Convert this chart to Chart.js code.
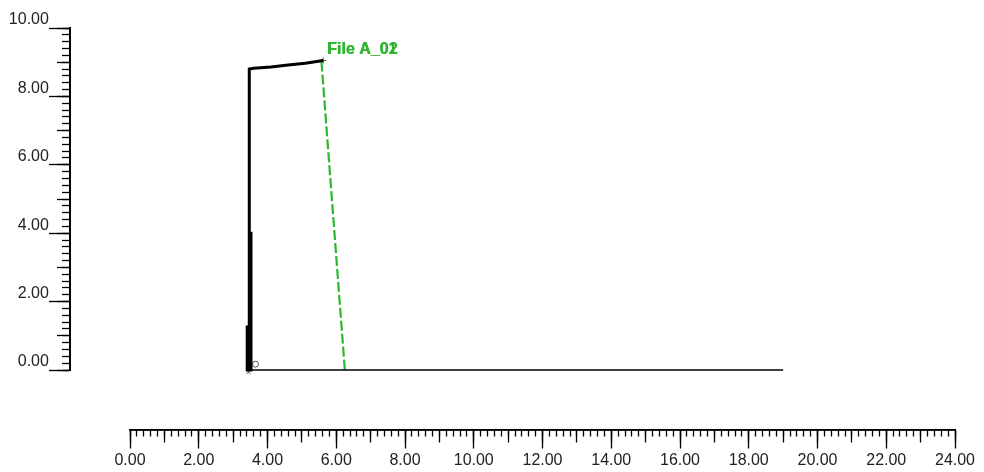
<!DOCTYPE html>
<html>
<head>
<meta charset="utf-8">
<script src="https://cdn.jsdelivr.net/npm/chart.js@4/dist/chart.umd.min.js"></script>
<style>
  html, body { margin: 0; padding: 0; background: #fff; }
  #wrap { width: 984px; height: 472px; position: relative; }
</style>
</head>
<body>
<div id="wrap"><canvas id="chart"></canvas></div>
<script>
// data
const baselineX = [3.47, 19.0];
const baselineY = [0, 0];

const traceX = [3.41, 3.41, 3.52, 3.52, 3.47, 3.47, 3.47, 3.60, 4.10, 4.60, 5.10, 5.62];
const traceY = [1.3, 0, 0, 4.0, 4.0, 0, 8.80, 8.82, 8.86, 8.92, 8.97, 9.05];

const dropX = [5.57, 6.25];
const dropY = [9.02, 0];

const markerX = [3.45, 3.65, 5.62];
const markerY = [-0.06, 0.17, 9.05];
const markerStyles = ['crossRot', 'circle', 'cross'];

const fileLabels = ['File A_01', 'File A_02'];
const labelAt = { x: 5.73, y: 9.36 };

// axis crossing values (in data units of the other axis)
const yAxisAtX = -1.745;
const yLabelsAtX = -2.36;
const xAxisAtY = -1.75;

const fmt = (v) => Number(v).toFixed(2);
const pts = (xs, ys) => xs.map((x, i) => ({ x, y: ys[i] }));

const tickFont = { family: 'Liberation Sans, Arial, sans-serif', size: 16 };

function xAxis(step, len, labels) {
  return {
    type: 'linear',
    min: 0,
    max: 24,
    position: { y: xAxisAtY },
    border: { display: true, color: '#000', width: 1.5 },
    grid: { drawOnChartArea: false, drawTicks: true, tickLength: len, tickColor: '#000', tickWidth: 1.3 },
    ticks: {
      stepSize: step,
      autoSkip: false,
      maxRotation: 0,
      display: labels,
      padding: 3,
      color: '#222',
      font: tickFont,
      callback: fmt,
    },
  };
}

function yAxis(step, len) {
  return {
    type: 'linear',
    min: 0,
    max: 10,
    position: { x: yAxisAtX },
    border: { display: true, color: '#000', width: 1.8 },
    grid: { drawOnChartArea: false, drawTicks: true, tickLength: len, tickColor: '#000', tickWidth: 1.3 },
    ticks: { stepSize: step, autoSkip: false, display: false },
  };
}

// labels only, sitting just left of the long ticks
const yLabelAxis = {
  type: 'linear',
  min: 0,
  max: 10,
  position: { x: yLabelsAtX },
  border: { display: false },
  grid: { display: false },
  ticks: {
    stepSize: 2,
    autoSkip: false,
    labelOffset: -8,
    color: '#222',
    font: tickFont,
    callback: fmt,
  },
};

const fileLabelPlugin = {
  id: 'fileLabel',
  afterDatasetsDraw(chart) {
    const { ctx, scales } = chart;
    const px = scales.x.getPixelForValue(labelAt.x);
    const py = scales.y.getPixelForValue(labelAt.y);
    ctx.save();
    ctx.fillStyle = '#2fb52f';
    ctx.font = 'bold 16px Liberation Sans, Arial, sans-serif';
    ctx.textAlign = 'left';
    ctx.textBaseline = 'middle';
    fileLabels.forEach((t, i) => ctx.fillText(t, px + i * 0.6, py));
    ctx.restore();
  },
};

new Chart(document.getElementById('chart'), {
  type: 'scatter',
  data: {
    datasets: [
      {
        label: 'baseline',
        data: pts(baselineX, baselineY),
        showLine: true,
        borderColor: '#000',
        borderWidth: 1.5,
        pointRadius: 0,
        clip: false,
      },
      {
        label: 'trace',
        data: pts(traceX, traceY),
        showLine: true,
        borderColor: '#000',
        borderWidth: 3,
        pointRadius: 0,
        clip: false,
      },
      {
        label: 'drop',
        data: pts(dropX, dropY),
        showLine: true,
        borderColor: '#2fb52f',
        borderWidth: 2.2,
        borderDash: [10, 3],
        pointRadius: 0,
        clip: false,
      },
      {
        label: 'markers',
        data: pts(markerX, markerY),
        showLine: false,
        pointStyle: markerStyles,
        pointRadius: 3,
        borderColor: '#555',
        backgroundColor: 'rgba(0,0,0,0)',
        borderWidth: 1,
        clip: false,
      },
    ],
  },
  options: {
    animation: false,
    responsive: true,
    maintainAspectRatio: false,
    layout: { padding: { left: 130, right: 29, top: 28, bottom: 102 } },
    plugins: {
      legend: { display: false },
      tooltip: { enabled: false },
    },
    scales: {
      x: xAxis(2, 18, true),
      xMid: xAxis(1, 12, false),
      xMinor: xAxis(0.2, 6, false),
      y: yAxis(2, 20),
      yMid: yAxis(1, 12),
      yMinor: yAxis(0.2, 7),
      yLabels: yLabelAxis,
    },
  },
  plugins: [fileLabelPlugin],
});
</script>
</body>
</html>
